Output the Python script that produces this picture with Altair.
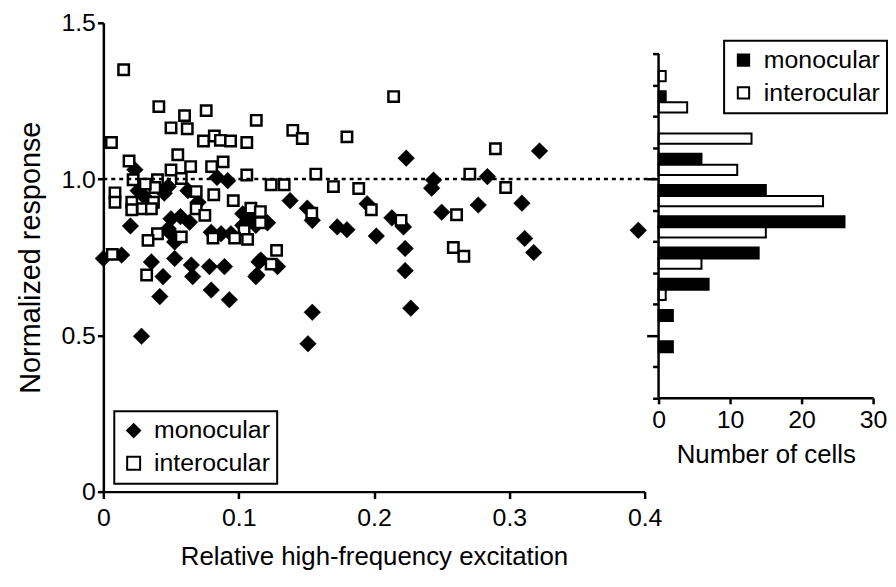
import altair as alt
import pandas as pd

# ---- scatter data ----
mono_x = [0.0233, 0.048, 0.0625, 0.0919, 0.084, 0.0257, 0.030, 0.070, 0.103, 0.109,
          0.020, 0.050, 0.0637, 0.048, 0.050, 0.0527, 0.0797, 0.087, 0.0943, 0.103,
          0.0, 0.0135, 0.0355, 0.0527, 0.065, 0.0784, 0.0895, 0.1164, 0.1127, 0.0441,
          0.066, 0.0417, 0.0797, 0.0931, 0.0282, 0.2238, 0.244, 0.2426, 0.138, 0.1507,
          0.1544, 0.1728, 0.180, 0.1949, 0.2017, 0.2132, 0.2218, 0.223, 0.223, 0.2272,
          0.1544, 0.1512, 0.250, 0.1213, 0.115, 0.1287, 0.1135, 0.3223, 0.2838, 0.277,
          0.3093, 0.3113, 0.318, 0.3953, 0.1127, 0.057, 0.045]
mono_y = [1.030, 0.976, 0.963, 0.995, 1.005, 0.963, 0.945, 0.926, 0.889, 0.873,
          0.850, 0.873, 0.862, 0.841, 0.825, 0.799, 0.830, 0.825, 0.825, 0.852,
          0.746, 0.757, 0.735, 0.746, 0.725, 0.720, 0.720, 0.741, 0.688, 0.688,
          0.688, 0.624, 0.645, 0.614, 0.497, 1.067, 0.997, 0.971, 0.931, 0.907,
          0.868, 0.847, 0.838, 0.921, 0.818, 0.876, 0.847, 0.778, 0.707, 0.587,
          0.574, 0.473, 0.894, 0.860, 0.735, 0.720, 0.693, 1.090, 1.008, 0.917,
          0.923, 0.810, 0.765, 0.836, 0.852, 0.880, 0.955]

inter_x = [0.015, 0.041, 0.060, 0.076, 0.113, 0.050, 0.062, 0.006, 0.074, 0.082,
           0.0865, 0.094, 0.106, 0.055, 0.019, 0.0885, 0.0645, 0.080, 0.050, 0.106,
           0.022, 0.0576, 0.040, 0.038, 0.031, 0.0086, 0.0086, 0.021, 0.037, 0.0686,
           0.0816, 0.096, 0.021, 0.029, 0.0355, 0.0686, 0.075, 0.109, 0.116, 0.116,
           0.104, 0.1066, 0.097, 0.081, 0.0576, 0.040, 0.033, 0.0066, 0.032, 0.2145,
           0.140, 0.147, 0.180, 0.157, 0.124, 0.1336, 0.170, 0.1887, 0.154, 0.198,
           0.220, 0.128, 0.124, 0.2897, 0.2708, 0.2973, 0.261, 0.2586, 0.2664]
inter_y = [1.350, 1.232, 1.203, 1.219, 1.188, 1.164, 1.161, 1.117, 1.122, 1.138,
           1.124, 1.122, 1.117, 1.078, 1.058, 1.055, 1.040, 1.040, 1.029, 1.013,
           0.998, 1.002, 0.998, 0.973, 0.984, 0.956, 0.926, 0.926, 0.926, 0.960,
           0.950, 0.931, 0.902, 0.905, 0.905, 0.905, 0.884, 0.907, 0.896, 0.860,
           0.836, 0.807, 0.811, 0.811, 0.815, 0.825, 0.804, 0.759, 0.693, 1.264,
           1.156, 1.130, 1.135, 1.016, 0.982, 0.982, 0.976, 0.970, 0.891, 0.902,
           0.868, 0.772, 0.728, 1.097, 1.016, 0.973, 0.886, 0.781, 0.753]

# ---- histogram data ----
bin_lo = [0.3, 0.4, 0.5, 0.6, 0.7, 0.8, 0.9, 1.0, 1.1, 1.2, 1.3]
mono_counts = [0, 2, 2, 7, 14, 26, 15, 6, 0, 1, 0]
inter_counts = [0, 0, 0, 1, 6, 15, 23, 11, 13, 4, 1]

types = ["monocular", "interocular"]
FONT = "Liberation Sans"

scatter_df = pd.DataFrame(
    {"x": mono_x + inter_x,
     "y": mono_y + inter_y,
     "type": ["monocular"] * len(mono_x) + ["interocular"] * len(inter_x)}
)

rows = []
for lo, m, i in zip(bin_lo, mono_counts, inter_counts):
    hi = lo + 0.1
    if m > 0:
        rows.append({"type": "monocular", "count": m, "y1": hi - 0.054, "y2": hi - 0.019})
    if i > 0:
        rows.append({"type": "interocular", "count": i, "y1": hi - 0.087, "y2": hi - 0.054})
hist_df = pd.DataFrame(rows)

xs = alt.Scale(domain=[0, 0.4], nice=False, zero=False)
ys = alt.Scale(domain=[0, 1.5], nice=False)
fill_scale = alt.Scale(domain=types, range=["black", "white"])
stroke_scale = alt.Scale(domain=types, range=["black", "black"])
shape_scale = alt.Scale(domain=types, range=["diamond", "square"])

legend_common = dict(
    title=None, orient="none", labelFont=FONT, labelFontSize=25, labelColor="black",
    symbolStrokeColor="black", symbolStrokeWidth=2,
    strokeColor="black", padding=7, rowPadding=7, labelOffset=8,
)

x_axis = alt.Axis(values=[0, 0.1, 0.2, 0.3, 0.4],
                  labelExpr="datum.value == 0 ? '0' : format(datum.value, '.1f')",
                  tickSize=7, labelPadding=7, titlePadding=13, grid=False, labelFlush=False,
                  titleFontSize=26, title="Relative high-frequency excitation")
y_axis = alt.Axis(values=[0, 0.5, 1.0, 1.5],
                  labelExpr="datum.value == 0 ? '0' : format(datum.value, '.1f')",
                  tickSize=6, labelPadding=2, titlePadding=16, grid=False, labelFlush=False,
                  titleFontSize=29, title="Normalized response")

sc_legend = alt.Legend(legendX=11, legendY=391, symbolSize=170, **legend_common)
base = alt.Chart(scatter_df).encode(
    x=alt.X("x:Q", scale=xs, axis=x_axis),
    y=alt.Y("y:Q", scale=ys, axis=y_axis),
    fill=alt.Fill("type:N", scale=fill_scale, legend=sc_legend),
    shape=alt.Shape("type:N", scale=shape_scale, legend=sc_legend),
    stroke=alt.Stroke("type:N", scale=stroke_scale, legend=sc_legend),
)
diamonds = base.transform_filter(alt.datum.type == "monocular").mark_point(
    size=280, filled=True, strokeWidth=0.5, opacity=1)
squares = base.transform_filter(alt.datum.type == "interocular").mark_point(
    size=110, filled=True, strokeWidth=2.5, opacity=1)

ref_line = alt.Chart(pd.DataFrame({"a": [0]})).mark_rule(
    strokeDash=[4, 4], strokeWidth=2.5, color="black", clip=False
).encode(x=alt.datum(0), x2=alt.datum(0.41), y=alt.datum(1.0))

scatter = alt.layer(diamonds, squares, ref_line).properties(width=545, height=472)

# ---- histogram ----
hx_axis = alt.Axis(values=[0, 5, 10, 15, 20, 25, 30],
                   labelExpr="datum.value % 10 == 0 ? datum.label : ''",
                   offset=-94.4, tickSize=6, labelPadding=4, titlePadding=9,
                   labelFlush=False, grid=False, title="Number of cells", titleFontSize=26)
hy_axis = alt.Axis(values=[0.3, 0.4, 0.5, 0.6, 0.7, 0.8, 0.9, 1.0, 1.1, 1.2, 1.3, 1.4],
                   labels=False, domain=False, grid=False, title=None,
                   tickSize={"condition": {"test": "abs(datum.value - 0.5) < 0.001 || abs(datum.value - 1.0) < 0.001", "value": 12}, "value": 6})

h_legend = alt.Legend(legendX=66, legendY=18, symbolType="square", symbolSize=130, **legend_common)
bars = alt.Chart(hist_df).mark_rect(strokeWidth=2).encode(
    x=alt.X("count:Q", scale=alt.Scale(domain=[0, 30], nice=False), axis=hx_axis),
    x2=alt.datum(0),
    y=alt.Y("y1:Q", scale=ys, axis=hy_axis),
    y2="y2:Q",
    fill=alt.Fill("type:N", scale=fill_scale, legend=h_legend),
    stroke=alt.Stroke("type:N", scale=stroke_scale, legend=h_legend),
)
hist_axis_line = alt.Chart(pd.DataFrame({"a": [0]})).mark_rule(
    strokeWidth=2.5, color="black").encode(x=alt.datum(0), y=alt.datum(0.3), y2=alt.datum(1.4))

hist = alt.layer(bars, hist_axis_line).properties(width=216, height=472)

chart = alt.hconcat(scatter, hist, spacing=14, bounds="flush").resolve_scale(
    fill="independent", shape="independent", stroke="independent", x="independent"
).resolve_legend(fill="independent", shape="independent", stroke="independent").properties(
    padding={"left": 8, "top": 1, "right": 0, "bottom": 0}
).configure_view(stroke=None).configure_axis(
    domainColor="black", domainWidth=2.5, tickColor="black", tickWidth=2.5,
    labelFont=FONT, labelFontSize=25, labelColor="black",
    titleFont=FONT, titleFontWeight="normal", titleColor="black",
).configure_legend(strokeWidth=2)

chart.save("out.html", embed_options={"renderer": "svg", "actions": False})
